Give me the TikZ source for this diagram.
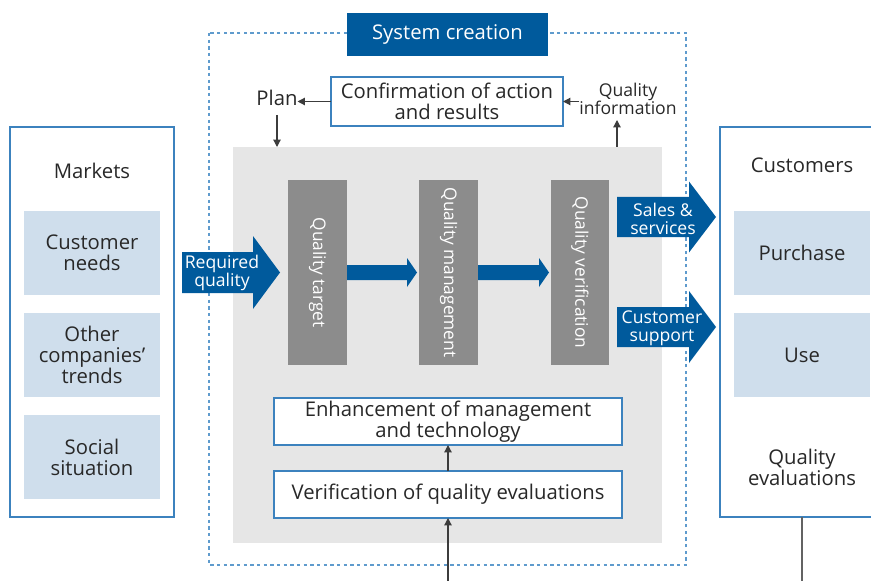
\documentclass[tikz,border=0pt]{standalone}
\usepackage{fontspec}
\setmainfont{Open Sans}
\usetikzlibrary{arrows.meta,calc}
\definecolor{dblue}{RGB}{0,90,156}
\definecolor{lblue}{RGB}{207,222,236}
\definecolor{bblue}{RGB}{60,130,190}
\definecolor{dotblue}{RGB}{95,155,205}
\definecolor{lgray}{RGB}{230,230,230}
\definecolor{mgray}{RGB}{140,140,140}
\definecolor{txt}{RGB}{40,40,40}
\definecolor{arrgray}{RGB}{60,60,60}
\newcommand\bx[7]{\node[#6, minimum width={(#4-#2)*0.75pt}, minimum height={(#5-#3)*0.75pt}] (#1) at ({(#2+#4)/2},{(#3+#5)/2}) {#7};}
\newcommand\barrow[5]{\fill[dblue] ($(#1)+(0,#3)$) -- ($(#2)+(-#5,#3)$) -- ($(#2)+(-#5,#4)$) -- (#2) -- ($(#2)+(-#5,-#4)$) -- ($(#2)+(-#5,-#3)$) -- ($(#1)+(0,-#3)$) -- cycle;}
\tikzset{
  base/.style={inner sep=0pt, outer sep=0pt, align=center, text=txt, font=\fontsize{15.2}{15.75}\selectfont},
  outerbox/.style={base, draw=bblue, line width=1.1pt, fill=white},
  subbox/.style={base, fill=lblue},
  whitebox/.style={base, draw=bblue, line width=1.1pt, fill=white},
  graybox/.style={base, fill=mgray, text=white, font=\fontsize{13}{14}\selectfont},
  lbl/.style={base},
  small/.style={base, font=\fontsize{13.2}{13.5}\selectfont},
  wlbl/.style={small, text=white},
  arr/.style={draw=arrgray, line width=0.9pt, -{Triangle[length=5.5pt,width=5.5pt]}},
}
\begin{document}
\begin{tikzpicture}[x=0.75pt,y=-0.75pt]
\useasboundingbox (0,0) rectangle (871,581);
\clip (0,0) rectangle (871,581);
% system creation dotted frame
\draw[dotblue, line width=1.1pt, dash pattern=on 2.5pt off 2.5pt] (209,33) rectangle (686,565);
\bx{sys}{347}{13}{548}{56}{base, fill=dblue, text=white}{System creation}
% big gray area
\bx{gray}{233}{147}{662}{543}{base, fill=lgray}{}
% markets
\bx{mkt}{10}{127}{174}{517}{outerbox}{}
\node[lbl] (mkttxt) at (92,171) {Markets};
\bx{cn}{24}{211}{160}{295}{subbox}{Customer\\needs}
\bx{oc}{24}{313}{160}{397}{subbox}{Other\\companies’\\trends}
\bx{ss}{24}{415}{160}{499}{subbox}{Social\\situation}
% customers
\bx{cust}{720}{127}{884}{517}{outerbox}{}
\node[lbl] (custtxt) at (802,165) {Customers};
\bx{pur}{734}{211}{870}{295}{subbox}{Purchase}
\bx{use}{734}{313}{870}{397}{subbox}{Use}
\node[lbl] (qe) at (802,467) {Quality\\evaluations};
\coordinate (cbot) at (802,581);
\draw[draw=arrgray!80, line width=1.1pt] (cust.south -| cbot) -- (cbot);
% confirmation
\bx{conf}{331}{77}{563}{126}{whitebox}{Confirmation of action\\and results}
\node[lbl] (plan) at (277,98) {Plan};
\node[small, text=txt] (qi) at (628,98.5) {Quality\\information};
\draw[arr] (conf.west) -- (conf.west -| plan.east);
\draw[arr] (plan.south |- 0,115) -- (plan.south |- gray.north);
\draw[arr] (qi.west |- conf.east) -- (conf.east);
\coordinate (qiup) at (617,120);
\draw[arr] (gray.north -| qiup) -- (qiup);
% quality chain
\bx{qt}{288}{180}{347}{365}{graybox}{\rotatebox{-90}{Quality target}}
\bx{qm}{419}{180}{478}{365}{graybox}{\rotatebox{-90}{Quality management}}
\bx{qv}{551}{180}{609}{365}{graybox}{\rotatebox{-90}{Quality verification}}
\coordinate (t1) at ($(qm.west)+(-2,0)$);
\coordinate (t2) at ($(qv.west)+(-2,0)$);
\barrow{qt.east}{t1}{7.5}{14.5}{10}
\barrow{qm.east}{t2}{7.5}{14.5}{10}
% required quality
\coordinate (rqs) at (182,272.5);
\coordinate (rqt) at (280,272.5);
\barrow{rqs}{rqt}{20.5}{36.5}{27}
\node[wlbl] (rq) at (222,273) {Required\\quality};
% sales & services
\coordinate (sas) at (617,217);
\coordinate (sat) at (716,217);
\barrow{sas}{sat}{20}{35.5}{27}
\node[wlbl] (sa) at (663,219) {Sales \&\\services};
\coordinate (cus) at (617,327);
\coordinate (cut) at (716,327);
\barrow{cus}{cut}{20}{36}{27}
\node[wlbl] (cs) at (662,328) {Customer\\support};
% enhancement
\bx{enh}{274}{398}{622}{445}{whitebox}{Enhancement of management\\and technology}
\bx{ver}{274}{471}{622}{518}{whitebox}{Verification of quality evaluations}
\draw[arr] (ver.north) -- (enh.south);
\coordinate (bot) at (448,581);
\draw[arr] (bot) -- (ver.south);
\end{tikzpicture}
\end{document}
